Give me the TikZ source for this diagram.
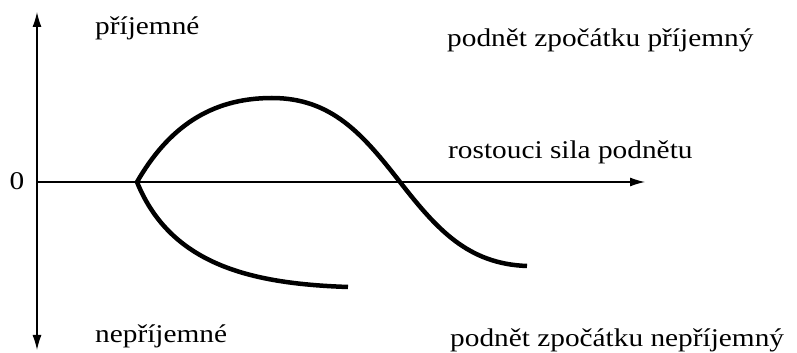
\documentclass[tikz,border=0pt]{standalone}
\usepackage{fontspec}
\setmainfont[FakeStretch=1.15]{Liberation Serif}
\usetikzlibrary{arrows.meta}

\begin{document}
\begin{tikzpicture}[x=1pt, y=1pt,
		>={Latex[length=15pt,width=9pt]},   %Pfeilspitzen
		achse/.style={line width=1.2pt},
		kurve/.style={line width=4.5pt},
		beschr/.style={inner sep=0pt, anchor=base west},
		font=\fontsize{25.5}{28}\selectfont]
		%Bildbereich
		\useasboundingbox (0,0) rectangle (797,353);
		% Achsen
		\coordinate (oben) at (37,341);
		\coordinate (unten) at (37,3);
		\coordinate (ursprung) at (37,171);
		\coordinate (rechts) at (645,171);
		\draw[<->,achse] (unten) -- (oben);
		\draw[->,achse] (ursprung) -- (rechts);
		\node[inner sep=0pt, anchor=base] (null) at (17,163) {0};
		% Beschriftungen
		\node[beschr] (prij) at (95,318) {příjemné};
		\node[beschr] (neprij) at (95,10) {nepříjemné};
		\node[beschr] (zprij) at (447,306) {podnět zpočátku příjemný};
		\node[beschr] (sila) at (448,194) {rostouci sila podnětu};
		\node[beschr] (zneprij) at (450,6) {podnět zpočátku nepříjemný};
		% Kurven
		\coordinate (start) at (137,171);
		\coordinate (gipfel) at (272,255);
		\coordinate (kreuz) at (400,171);
		\coordinate (ende) at (527,87);
		\coordinate (tief) at (348,66);
		\draw[kurve] (start) to[out=60,in=180] (gipfel) to[out=0,in=128] (kreuz) to[out=-52,in=178] (ende);
		\draw[kurve] (start) to[out=-68,in=178] (tief);
	\end{tikzpicture}
\end{document}
